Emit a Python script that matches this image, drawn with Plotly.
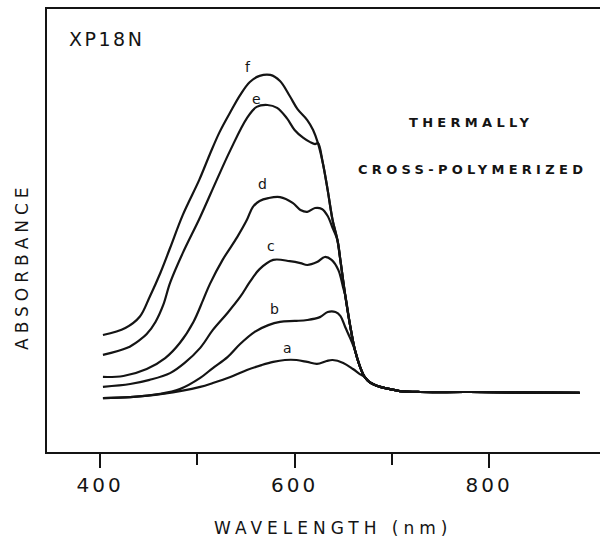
import plotly.graph_objects as go

# ---- data (wavelength in nm, absorbance in arbitrary units) ----
tail_wl = [624, 629, 634, 639, 644, 647, 652, 657, 662, 667, 672, 677, 688, 698, 708, 729, 780, 893]
tail_abs = [0.778, 0.716, 0.631, 0.538, 0.475, 0.413, 0.303, 0.209, 0.131, 0.081, 0.047, 0.031,
            0.016, 0.009, 0.003, 0.0, 0.0, -0.003]

f_wl = [403, 426, 441, 451, 462, 472, 485, 502, 513, 523, 534, 544, 554, 564, 575, 585, 595, 603, 613, 619]
f_abs = [0.178, 0.200, 0.236, 0.297, 0.372, 0.450, 0.553, 0.663, 0.744, 0.813, 0.875, 0.928, 0.969,
         0.988, 0.991, 0.972, 0.925, 0.884, 0.850, 0.819]

e_wl = [403, 428, 441, 448, 457, 465, 472, 485, 503, 520, 534, 551, 561, 572, 582, 592, 600, 609, 616, 621]
e_abs = [0.116, 0.138, 0.163, 0.181, 0.219, 0.272, 0.341, 0.434, 0.547, 0.663, 0.756, 0.856, 0.891,
         0.897, 0.888, 0.856, 0.819, 0.794, 0.781, 0.775]

d_wl = [403, 424, 448, 467, 482, 496, 506, 513, 526, 541, 551, 557, 564, 573, 585, 598, 606, 613, 621, 628, 634, 639]
d_abs = [0.047, 0.050, 0.072, 0.106, 0.153, 0.219, 0.288, 0.338, 0.413, 0.484, 0.538, 0.578, 0.597,
         0.606, 0.609, 0.591, 0.569, 0.563, 0.575, 0.572, 0.550, 0.513]

c_wl = [403, 431, 451, 472, 487, 503, 516, 531, 544, 554, 564, 578, 595, 606, 613, 623, 631, 638, 645, 650]
c_abs = [0.016, 0.025, 0.038, 0.059, 0.091, 0.138, 0.194, 0.247, 0.297, 0.344, 0.384, 0.413, 0.409,
         0.403, 0.397, 0.406, 0.422, 0.413, 0.381, 0.325]

b_wl = [403, 431, 462, 482, 503, 516, 531, 544, 559, 573, 585, 600, 613, 626, 634, 642, 647, 652, 657]
b_abs = [-0.019, -0.016, -0.006, 0.009, 0.044, 0.075, 0.109, 0.150, 0.188, 0.209, 0.219, 0.222, 0.225,
         0.234, 0.250, 0.250, 0.238, 0.203, 0.169]

a_wl = [403, 431, 464, 503, 516, 534, 551, 566, 578, 590, 602, 613, 623, 633, 639, 650, 660, 667]
a_abs = [-0.019, -0.016, -0.006, 0.016, 0.028, 0.047, 0.069, 0.084, 0.094, 0.100, 0.100, 0.094, 0.088,
         0.097, 0.100, 0.091, 0.072, 0.056]

curve_names = ["a", "b", "c", "d", "e", "f"]
curve_heads_wl = [a_wl, b_wl, c_wl, d_wl, e_wl, f_wl]
curve_heads_abs = [a_abs, b_abs, c_abs, d_abs, e_abs, f_abs]
tail_start = [10, 8, 6, 4, 0, 0]   # where each curve joins the common absorption edge

label_wl = [593, 579, 576, 567.5, 561, 552]
label_abs = [0.138, 0.259, 0.456, 0.650, 0.916, 1.016]

tick_vals = [400, 600, 800]
tick_text = ["400", "600", "800"]
minor_vals = [500, 700]

INK = "#141414"
FONT = "DejaVu Sans"


def spaced(txt, px):
    return f'<span style="letter-spacing:{px}px">{txt}</span>'


fig = go.Figure()
for name, hw, ha, k in zip(curve_names, curve_heads_wl, curve_heads_abs, tail_start):
    fig.add_trace(go.Scatter(
        x=hw + tail_wl[k:], y=ha + tail_abs[k:], mode="lines", name=name,
        line=dict(color=INK, width=2.2, shape="spline", smoothing=1.0),
        showlegend=False, hoverinfo="skip"))

annotations = []
for name, lx, ly in zip(curve_names, label_wl, label_abs):
    annotations.append(dict(x=lx, y=ly, xref="x", yref="y", text=name, showarrow=False,
                            xanchor="center", yanchor="middle",
                            font=dict(family=FONT, size=14, color=INK)))

annotations += [
    dict(x=407, y=1.103, xref="x", yref="y", text=spaced("XP18N", 2.5), showarrow=False,
         xanchor="center", yanchor="middle",
         font=dict(family=FONT, size=19, color=INK)),
    dict(x=781, y=0.841, xref="x", yref="y", text=spaced("<b>THERMALLY</b>", 4.3), showarrow=False,
         xanchor="center", yanchor="middle",
         font=dict(family=FONT, size=13, color=INK)),
    dict(x=783, y=0.694, xref="x", yref="y", text=spaced("<b>CROSS-POLYMERIZED</b>", 4.3), showarrow=False,
         xanchor="center", yanchor="middle",
         font=dict(family=FONT, size=13, color=INK)),
    dict(x=(333 - 47) / 553, y=(543 - 528 - 91) / 443, xref="paper", yref="paper",
         text=spaced("WAVELENGTH (nm)", 5), showarrow=False,
         xanchor="center", yanchor="middle",
         font=dict(family=FONT, size=17, color=INK)),
    dict(x=(22 - 47) / 553, y=(452 - 266) / 443, xref="paper", yref="paper",
         text=spaced("ABSORBANCE", 5), showarrow=False, textangle=-90,
         xanchor="center", yanchor="middle",
         font=dict(family=FONT, size=17, color=INK)),
]

fig.update_layout(
    width=600, height=543,
    margin=dict(l=47, r=0, t=9, b=91),
    paper_bgcolor="white", plot_bgcolor="white",
    annotations=annotations,
    xaxis=dict(range=[345.5, 913.9], showgrid=False, zeroline=False,
               showline=True, linecolor=INK, linewidth=2, mirror=True,
               ticks="outside", ticklen=14, tickwidth=2, tickcolor=INK,
               tickmode="array", tickvals=tick_vals,
               ticktext=[spaced(t, 3) for t in tick_text],
               tickfont=dict(family=FONT, size=20, color=INK),
               minor=dict(tickmode="array", tickvals=minor_vals, ticks="outside",
                          ticklen=11, tickwidth=2, tickcolor=INK)),
    yaxis=dict(range=[-0.1875, 1.197], showgrid=False, zeroline=False,
               showline=True, linecolor=INK, linewidth=2, showticklabels=False, ticks=""),
)

fig.write_html("out.html")
